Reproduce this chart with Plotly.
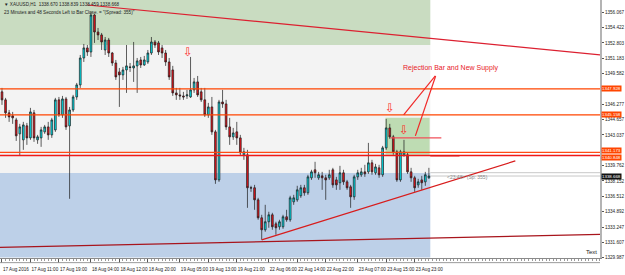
import plotly.graph_objects as go

# ---------------- data ----------------
bar_idx = list(range(121))  # hourly bars, 17 Aug 2016 03:00 ... 24 Aug 03:00

opens = [
    1347.61, 1346.76, 1345.38, 1345.06, 1344.63, 1343.15, 1342.51, 1344.00, 1342.72, 1345.38,
    1342.51, 1342.72, 1343.36, 1343.89, 1343.04, 1343.57, 1346.76, 1345.16, 1346.86, 1344.00,
    1345.69, 1347.07, 1348.35, 1351.21, 1352.28, 1351.85, 1355.78, 1353.97, 1353.66, 1352.06,
    1353.12, 1351.74, 1350.68, 1349.73, 1349.41, 1349.94, 1350.26, 1350.15, 1350.37, 1351.00,
    1350.47, 1350.79, 1351.74, 1352.91, 1352.81, 1352.28, 1351.74, 1350.79, 1349.94, 1347.50,
    1347.29, 1347.18, 1347.18, 1347.07, 1347.82, 1348.67, 1347.61, 1346.76, 1345.16, 1346.01,
    1343.36, 1338.26, 1346.54, 1346.33, 1343.89, 1342.83, 1343.36, 1342.72, 1340.92, 1340.92,
    1337.42, 1337.42, 1336.14, 1334.23, 1332.96, 1333.81, 1334.55, 1333.59, 1333.28, 1333.28,
    1334.34, 1334.02, 1335.93, 1336.14, 1336.57, 1337.42, 1336.89, 1338.48, 1339.33, 1338.48,
    1338.69, 1338.48, 1338.48, 1339.33, 1338.26, 1337.95, 1339.01, 1338.05, 1337.52, 1336.46,
    1338.58, 1338.80, 1339.11, 1339.11, 1340.07, 1339.01, 1339.54, 1338.80, 1341.66, 1343.78,
    1342.83, 1341.24, 1338.26, 1340.92, 1340.92, 1339.11, 1338.48, 1337.73, 1338.26, 1338.05,
    1338.48]
highs = [
    1348.03, 1346.97, 1345.69, 1345.48, 1344.85, 1344.21, 1344.42, 1344.31, 1345.91, 1345.69,
    1343.04, 1343.89, 1344.10, 1344.42, 1344.85, 1346.97, 1347.07, 1347.18, 1347.07, 1346.01,
    1347.29, 1348.56, 1351.53, 1352.70, 1352.59, 1356.10, 1355.88, 1354.40, 1353.87, 1353.44,
    1353.34, 1351.85, 1351.00, 1350.15, 1350.26, 1352.59, 1350.68, 1352.91, 1351.21, 1351.32,
    1351.43, 1352.06, 1353.44, 1353.12, 1353.02, 1352.59, 1352.06, 1351.21, 1350.37, 1348.03,
    1348.03, 1347.61, 1347.82, 1351.32, 1349.09, 1349.30, 1348.03, 1348.03, 1346.44, 1347.07,
    1343.57, 1346.76, 1347.82, 1346.76, 1344.85, 1343.78, 1344.42, 1343.04, 1341.66, 1341.45,
    1337.63, 1337.73, 1336.35, 1334.55, 1335.61, 1334.87, 1334.76, 1333.81, 1334.02, 1334.55,
    1335.08, 1336.57, 1336.67, 1337.63, 1337.73, 1337.73, 1338.80, 1339.33, 1340.18, 1339.11,
    1339.11, 1338.80, 1339.33, 1339.54, 1338.58, 1339.75, 1339.33, 1338.26, 1337.73, 1338.80,
    1339.33, 1339.54, 1339.86, 1342.19, 1340.39, 1339.96, 1339.86, 1341.87, 1344.74, 1344.21,
    1343.04, 1341.45, 1341.45, 1342.51, 1341.13, 1339.54, 1338.69, 1338.37, 1338.69, 1339.11,
    1339.54]
lows = [
    1346.23, 1344.85, 1344.42, 1344.21, 1342.40, 1340.81, 1341.45, 1341.98, 1342.51, 1342.30,
    1342.09, 1341.77, 1343.15, 1342.51, 1342.72, 1343.36, 1344.95, 1344.85, 1343.57, 1336.25,
    1345.48, 1346.76, 1348.03, 1350.79, 1351.43, 1351.32, 1352.81, 1353.12, 1352.06, 1351.53,
    1351.32, 1350.37, 1348.88, 1346.01, 1348.88, 1347.50, 1349.73, 1348.67, 1347.50, 1350.15,
    1350.37, 1350.58, 1351.53, 1352.28, 1351.53, 1351.21, 1350.37, 1348.88, 1347.18, 1346.76,
    1346.76, 1346.76, 1346.86, 1346.97, 1347.50, 1347.07, 1346.54, 1344.95, 1344.85, 1343.04,
    1337.84, 1338.05, 1345.91, 1343.57, 1341.98, 1342.51, 1341.98, 1340.81, 1340.39, 1335.29,
    1336.99, 1335.08, 1334.02, 1331.90, 1332.75, 1333.17, 1332.96, 1332.43, 1332.96, 1333.06,
    1333.81, 1333.81, 1335.61, 1335.93, 1336.35, 1336.57, 1336.67, 1338.26, 1338.48, 1338.26,
    1337.20, 1336.14, 1338.26, 1337.42, 1337.20, 1337.20, 1337.73, 1337.20, 1335.29, 1336.14,
    1338.26, 1338.58, 1338.58, 1338.90, 1338.80, 1338.80, 1338.48, 1338.58, 1341.45, 1342.62,
    1340.92, 1338.05, 1338.05, 1340.71, 1338.90, 1338.05, 1336.99, 1337.42, 1337.20, 1337.63,
    1338.37]
closes = [
    1346.76, 1345.38, 1344.95, 1344.85, 1342.94, 1343.89, 1344.10, 1342.72, 1345.48, 1342.72,
    1342.83, 1343.57, 1343.89, 1343.04, 1344.63, 1346.76, 1345.16, 1346.86, 1343.89, 1345.69,
    1347.07, 1348.35, 1351.21, 1352.28, 1351.85, 1355.78, 1353.97, 1353.66, 1352.91, 1353.12,
    1351.74, 1350.68, 1349.20, 1349.41, 1349.94, 1350.37, 1350.21, 1350.37, 1350.90, 1350.47,
    1351.00, 1351.74, 1352.91, 1352.59, 1351.85, 1351.74, 1350.79, 1349.20, 1347.50, 1347.29,
    1347.18, 1347.07, 1347.29, 1347.82, 1348.67, 1347.29, 1346.76, 1345.16, 1346.01, 1343.36,
    1338.26, 1346.54, 1346.33, 1343.89, 1342.83, 1343.25, 1342.72, 1341.13, 1341.24, 1337.42,
    1337.40, 1336.14, 1334.23, 1332.96, 1333.81, 1334.55, 1333.28, 1333.17, 1333.81, 1334.34,
    1334.02, 1336.35, 1336.35, 1337.20, 1337.42, 1336.89, 1338.58, 1339.11, 1339.01, 1338.80,
    1338.48, 1338.26, 1338.80, 1337.73, 1337.73, 1339.01, 1338.05, 1337.42, 1336.46, 1338.58,
    1339.01, 1339.11, 1338.90, 1340.07, 1339.11, 1339.64, 1338.80, 1341.66, 1343.78, 1342.83,
    1341.24, 1338.26, 1341.24, 1341.24, 1339.11, 1338.48, 1337.42, 1338.05, 1337.95, 1338.80,
    1338.67]

time_tick_idx = [0, 8, 16, 25, 33, 41, 50, 58, 66, 75, 83, 91, 100, 108, 116]
time_tick_text = ["17 Aug 2016", "17 Aug 11:00", "17 Aug 19:00", "18 Aug 04:00", "18 Aug 12:00",
                  "18 Aug 20:00", "19 Aug 05:00", "19 Aug 13:00", "19 Aug 21:00", "22 Aug 06:00",
                  "22 Aug 14:00", "22 Aug 22:00", "23 Aug 07:00", "23 Aug 15:00", "23 Aug 23:00"]

# visible price scale labels (the ones at 1347.9 and 1341.4 are hidden by level tags)
price_ticks = [1356.067, 1354.422, 1352.803, 1351.183, 1349.582, 1346.277, 1344.657,
               1343.037, 1339.762, 1338.152, 1336.512, 1334.892, 1333.247, 1331.607,
               1329.987]

level_prices = [1347.928, 1345.158, 1341.173, 1340.848]
level_colors = ["#ff4500", "#ff4500", "#ff4a14", "#f01818"]
level_tag_shift = [0, 0, 1.5, -1.5]

bid_price = 1338.668
ask_price = 1339.023

zone_x0 = [-0.6, -0.6, -0.6, 107.8]
zone_x1 = [120.4, 120.4, 120.4, 120.2]
zone_y0 = [1352.60, 1339.00, 1330.00, 1340.92]
zone_y1 = [1357.40, 1352.60, 1339.00, 1344.85]
zone_colors = ["#c9dcc1", "#f3f3f3", "#bdd0e8", "#bedcb3"]

trend_x0 = [24.0, 73.0, -0.6, 121.8, 121.9, 109.2, 120.4]
trend_y0 = [1356.84, 1331.89, 1331.08, 1349.30, 1349.30, 1342.72, 1340.81]
trend_x1 = [168.3, 144.3, 168.2, 112.9, 116.2, 123.5, 128.6]
trend_y1 = [1351.53, 1340.28, 1332.47, 1345.16, 1342.94, 1342.72, 1340.81]
trend_colors = ["#dc2030", "#d81c1c", "#a8141c", "#f02828", "#f02828", "#f0505a", "#e01818"]

arrow_x = [52.4, 109.0, 112.9]
arrow_y = [1351.85, 1345.91, 1343.57]

x_range = [-0.56, 168.1]
y_range = [1329.96, 1357.37]

# ---------------- figure ----------------
fig = go.Figure()
fig.add_trace(go.Candlestick(
    x=bar_idx, open=opens, high=highs, low=lows, close=closes,
    increasing=dict(fillcolor="#00e4ee", line=dict(color="#1a1a1a", width=0.7)),
    decreasing=dict(fillcolor="#e8141c", line=dict(color="#1a1a1a", width=0.7)),
    whiskerwidth=0, showlegend=False, hoverinfo="skip"))

shapes = []
for x0, x1, y0, y1, c in zip(zone_x0, zone_x1, zone_y0, zone_y1, zone_colors):
    shapes.append(dict(type="rect", xref="x", yref="y", x0=x0, x1=x1, y0=y0, y1=y1,
                       fillcolor=c, line=dict(width=0), layer="below"))
for p in [ask_price, bid_price]:
    shapes.append(dict(type="line", xref="paper", yref="y", x0=0, x1=1, y0=p, y1=p,
                       line=dict(color="#c8c8c8", width=1), layer="below"))
for p, c in zip(level_prices, level_colors):
    shapes.append(dict(type="line", xref="paper", yref="y", x0=0, x1=1, y0=p, y1=p,
                       line=dict(color=c, width=1.3)))
for x0, y0, x1, y1, c in zip(trend_x0, trend_y0, trend_x1, trend_y1, trend_colors):
    shapes.append(dict(type="line", xref="x", yref="y", x0=x0, y0=y0, x1=x1, y1=y1,
                       line=dict(color=c, width=1.2)))
shapes.append(dict(type="line", xref="paper", yref="paper", x0=0, x1=1, y0=-0.018, y1=-0.018,
                   line=dict(color="#9a9a9a", width=1)))

ann = []
for ax_, ay_ in zip(arrow_x, arrow_y):
    ann.append(dict(x=ax_, y=ay_, xref="x", yref="y", text="⇩", showarrow=False,
                    font=dict(family="DejaVu Sans", size=12, color="#ff2a2a")))
ann.append(dict(x=126.0, y=1350.15, xref="x", yref="y", text="Rejection Bar and New Supply",
                showarrow=False, font=dict(family="Liberation Sans", size=7, color="#e8202a")))
ann.append(dict(x=124.4, y=1338.58, xref="x", yref="y", text="<23:48> (Sp: 355)",
                xanchor="left", showarrow=False,
                font=dict(family="Liberation Sans", size=5, color="#8a8a8a")))
ann.append(dict(x=0.004, y=1.0, xref="paper", yref="paper", xanchor="left", yanchor="top",
                text="▼ XAUUSD,H1  1338.670 1338.839 1338.459 1338.668", showarrow=False,
                font=dict(family="Liberation Sans", size=4.6, color="#222")))
ann.append(dict(x=0.004, y=0.968, xref="paper", yref="paper", xanchor="left", yanchor="top",
                text='23 Minutes and 48 Seconds Left to Bar Close. = "(Spread: 355)"', showarrow=False,
                font=dict(family="Liberation Sans", size=4.6, color="#222")))
ann.append(dict(x=0.998, y=0.005, xref="paper", yref="paper", xanchor="right", yanchor="bottom",
                text="Text", showarrow=False,
                font=dict(family="Liberation Sans", size=6, color="#222")))
for p, s in zip(level_prices, level_tag_shift):
    ann.append(dict(x=1.0, y=p, xref="paper", yref="y", xanchor="left", text=f"{p:.3f}",
                    showarrow=False, bgcolor="#ff4500", borderpad=0, xshift=1, yshift=s,
                    font=dict(family="Liberation Sans", size=4.4, color="white")))
ann.append(dict(x=1.0, y=bid_price, xref="paper", yref="y", xanchor="left", text=f"{bid_price:.3f}",
                showarrow=False, bgcolor="#111111", borderpad=0, xshift=1,
                font=dict(family="Liberation Sans", size=4.4, color="white")))

fig.update_layout(
    width=625, height=275,
    margin=dict(l=0, r=23, t=0, b=17),
    paper_bgcolor="white", plot_bgcolor="white",
    shapes=shapes, annotations=ann, showlegend=False,
    xaxis=dict(range=x_range, type="linear", rangeslider=dict(visible=False),
               tickvals=time_tick_idx, ticktext=time_tick_text, tickangle=0,
               ticks="outside", ticklen=4, tickcolor="#555", tickwidth=1,
               ticklabelposition="outside right", ticklabelstandoff=6,
               tickfont=dict(family="Liberation Sans", size=4.6, color="#222"),
               minor=dict(dtick=1, tick0=0, ticks="outside", ticklen=2, tickcolor="#9a9a9a"),
               showline=True, linecolor="#8a8a8a", linewidth=1,
               showgrid=False, zeroline=False, fixedrange=True),
    yaxis=dict(range=y_range, side="right",
               tickvals=price_ticks, ticktext=[f"{v:.3f}" for v in price_ticks],
               ticks="outside", ticklen=2, tickcolor="#555",
               tickfont=dict(family="Liberation Sans", size=4.6, color="#222"),
               showline=True, linecolor="#b4b4b4", linewidth=2,
               showgrid=False, zeroline=False, fixedrange=True),
)

fig.write_html("out.html")
